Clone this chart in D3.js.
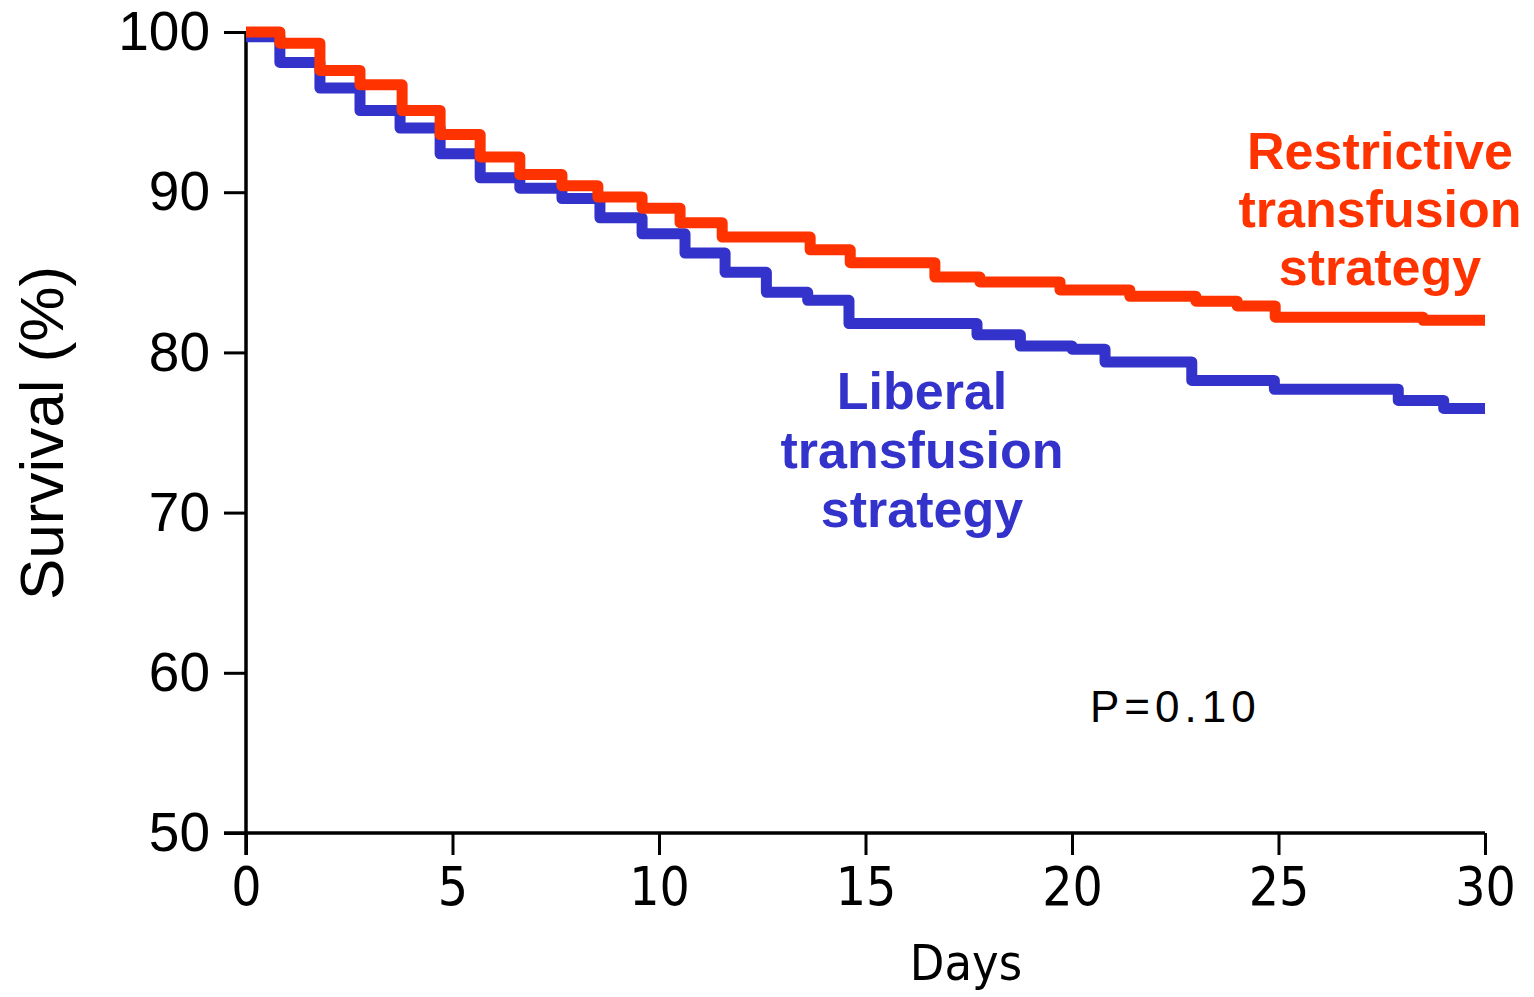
<!DOCTYPE html>
<html>
<head>
<meta charset="utf-8">
<script src="https://cdn.jsdelivr.net/npm/d3@7"></script>
<style>
  html, body { margin: 0; padding: 0; background: #ffffff; }
  svg { display: block; }
</style>
</head>
<body>
<svg id="chart" width="1534" height="997"></svg>
<script>
// ---- Data ----
const xTicks = [0, 5, 10, 15, 20, 25, 30];
const yTicks = [50, 60, 70, 80, 90, 100];

// Restrictive transfusion strategy (step-after Kaplan–Meier)
const restrictiveDays = [0, 0.82, 1.79, 2.76, 3.78, 4.70, 5.67, 6.63, 7.65, 8.52, 9.59, 10.51, 11.53, 13.66, 14.63, 16.68, 17.77, 19.71, 21.4, 23.0, 24.0, 24.92, 28.5, 30];
const restrictiveSurvival = [100, 99.3, 97.6, 96.7, 95.1, 93.6, 92.2, 91.1, 90.4, 89.7, 89.0, 88.1, 87.2, 86.4, 85.6, 84.7, 84.4, 83.9, 83.5, 83.2, 82.9, 82.2, 82.0, 82.0];

// Liberal transfusion strategy
const liberalDays = [0, 0.82, 1.79, 2.76, 3.73, 4.70, 5.67, 6.63, 7.65, 8.57, 9.59, 10.63, 11.6, 12.6, 13.6, 14.6, 17.7, 18.75, 20.0, 20.8, 22.9, 24.9, 27.9, 29.0, 30];
const liberalSurvival = [99.7, 98.1, 96.5, 95.1, 94.0, 92.4, 90.9, 90.25, 89.6, 88.4, 87.4, 86.2, 85.0, 83.75, 83.25, 81.8, 81.1, 80.4, 80.2, 79.4, 78.25, 77.7, 77.0, 76.5, 76.5];

const restrictiveLabel = ["Restrictive", "transfusion", "strategy"];
const liberalLabel = ["Liberal", "transfusion", "strategy"];
const pValueText = "P=0.10";
const xTitle = "Days";
const yTitle = "Survival (%)";

// ---- Drawing ----
const svg = d3.select("#chart");
const x = d3.scaleLinear().domain([0, 30]).range([246, 1485]);
const y = d3.scaleLinear().domain([50, 100]).range([833, 32]);

const red = "#ff3300";
const blue = "#3333cc";

// Axes
const xAxis = svg.append("g")
  .attr("transform", `translate(0,${y(50)})`)
  .call(d3.axisBottom(x).tickValues(xTicks).tickSize(22).tickPadding(12).tickFormat(d3.format("d")));
const yAxis = svg.append("g")
  .attr("transform", `translate(${x(0)},0)`)
  .call(d3.axisLeft(y).tickValues(yTicks).tickSize(22).tickPadding(14).tickFormat(d3.format("d")));

[xAxis, yAxis].forEach(g => {
  g.select(".domain").remove();
  g.selectAll(".tick line").attr("stroke", "#000").attr("stroke-width", 3);
});
xAxis.selectAll(".tick text")
  .attr("fill", "#000")
  .style("font-family", "'DejaVu Sans Condensed', 'DejaVu Sans', sans-serif")
  .style("font-size", "53px")
  .attr("dy", "0.71em");
yAxis.selectAll(".tick text")
  .attr("fill", "#000")
  .style("font-family", "'Liberation Sans', Arial, sans-serif")
  .style("font-size", "55px");

// Axis lines (slightly crossing at the origin, like the scan)
svg.append("line")
  .attr("x1", x(0)).attr("x2", x(0))
  .attr("y1", y(100)).attr("y2", y(50) + 22)
  .attr("stroke", "#000").attr("stroke-width", 3.5);
svg.append("line")
  .attr("x1", x(0) - 22).attr("x2", x(30))
  .attr("y1", y(50)).attr("y2", y(50))
  .attr("stroke", "#000").attr("stroke-width", 3.5);

// Curves
const line = d3.line()
  .x(d => x(d[0]))
  .y(d => y(d[1]))
  .curve(d3.curveStepAfter);

const liberal = d3.zip(liberalDays, liberalSurvival);
const restrictive = d3.zip(restrictiveDays, restrictiveSurvival);

svg.append("path")
  .datum(liberal)
  .attr("d", line)
  .attr("fill", "none")
  .attr("stroke", blue)
  .attr("stroke-width", 11)
  .attr("stroke-linejoin", "round");

svg.append("path")
  .datum(restrictive)
  .attr("d", line)
  .attr("fill", "none")
  .attr("stroke", red)
  .attr("stroke-width", 11)
  .attr("stroke-linejoin", "round");

// Axis titles
svg.append("text")
  .attr("x", 966).attr("y", 980)
  .attr("text-anchor", "middle")
  .style("font-family", "'DejaVu Sans Condensed', 'DejaVu Sans', sans-serif")
  .style("font-size", "50px")
  .attr("fill", "#000")
  .text(xTitle);

svg.append("text")
  .attr("transform", "translate(63,433) rotate(-90)")
  .attr("text-anchor", "middle")
  .style("font-family", "'Liberation Sans', Arial, sans-serif")
  .style("font-size", "62px")
  .attr("fill", "#000")
  .text(yTitle);

// Series labels
const labelFont = "'Liberation Sans', Arial, sans-serif";
svg.append("text")
  .attr("text-anchor", "middle")
  .style("font-family", labelFont)
  .style("font-weight", "bold")
  .style("font-size", "52px")
  .attr("fill", red)
  .selectAll("tspan")
  .data(restrictiveLabel)
  .join("tspan")
  .attr("x", 1380)
  .attr("y", (d, i) => 169 + i * 58)
  .text(d => d);

svg.append("text")
  .attr("text-anchor", "middle")
  .style("font-family", labelFont)
  .style("font-weight", "bold")
  .style("font-size", "52px")
  .attr("fill", blue)
  .selectAll("tspan")
  .data(liberalLabel)
  .join("tspan")
  .attr("x", 922)
  .attr("y", (d, i) => 409 + i * 59)
  .text(d => d);

// P value
svg.append("text")
  .attr("x", 1090).attr("y", 722)
  .style("font-family", "'Liberation Sans', Arial, sans-serif")
  .style("font-size", "44px")
  .style("letter-spacing", "5px")
  .attr("fill", "#000")
  .text(pValueText);
</script>
</body>
</html>
